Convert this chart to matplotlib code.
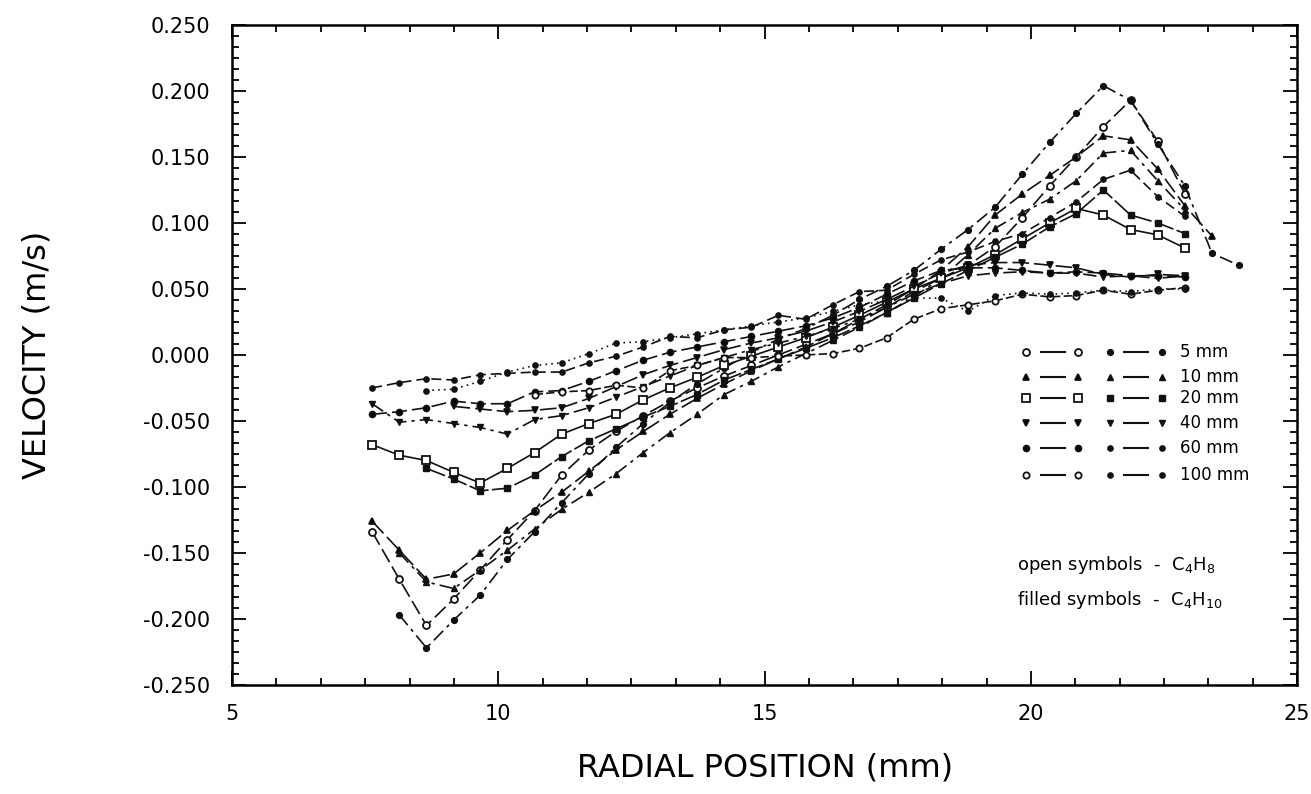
import matplotlib
matplotlib.use("Agg")
from matplotlib import pyplot as plt
from matplotlib.ticker import MultipleLocator, FormatStrFormatter
import numpy as np

plt.rcParams["font.family"] = ["DejaVu Sans"]
plt.rcParams["axes.unicode_minus"] = False
plt.rcParams["mathtext.fontset"] = "dejavusans"

N = None

# radial positions (mm)
radial = [7.63, 8.14, 8.65, 9.16, 9.66, 10.17, 10.68, 11.19, 11.70, 12.21, 12.72,
          13.22, 13.73, 14.24, 14.75, 15.26, 15.77, 16.28, 16.78, 17.29, 17.80,
          18.31, 18.82, 19.33, 19.84, 20.35, 20.85, 21.36, 21.87, 22.38, 22.89,
          23.40, 23.90]

# velocity (m/s) -- open symbols C4H8, filled symbols C4H10
c4h8_5mm = [-0.134, -0.170, -0.205, -0.185, -0.163, -0.140, -0.118, -0.091, -0.072, -0.058,
            -0.046, -0.035, -0.025, -0.016, -0.008, 0.000, 0.008, 0.016, 0.025, 0.036,
            0.048, 0.058, 0.068, 0.082, 0.104, 0.128, 0.150, 0.173, 0.193, 0.162, 0.122, N, N]
c4h10_5mm = [N, -0.197, -0.222, -0.201, -0.182, -0.155, -0.134, -0.112, -0.090, -0.070,
             -0.052, -0.036, -0.022, -0.010, 0.002, 0.012, 0.020, 0.030, 0.042, 0.052,
             0.064, 0.080, 0.095, 0.112, 0.137, 0.161, 0.183, 0.204, 0.193, 0.160, 0.128,
             0.077, 0.068]
c4h8_10mm = [-0.126, -0.148, -0.170, -0.166, -0.150, -0.133, -0.118, -0.104, -0.088, -0.072,
             -0.058, -0.045, -0.033, -0.022, -0.012, -0.003, 0.006, 0.016, 0.027, 0.038,
             0.050, 0.064, 0.082, 0.106, 0.122, 0.136, 0.150, 0.166, 0.163, 0.141, 0.113,
             0.090, N]
c4h10_10mm = [N, -0.150, -0.172, -0.177, -0.163, -0.148, -0.132, -0.117, -0.104, -0.090,
              -0.074, -0.059, -0.045, -0.030, -0.020, -0.009, 0.001, 0.011, 0.021, 0.032,
              0.044, 0.058, 0.076, 0.096, 0.108, 0.118, 0.132, 0.153, 0.155, 0.132, 0.110, N, N]
c4h8_20mm = [-0.068, -0.076, -0.080, -0.089, -0.097, -0.086, -0.074, -0.060, -0.052, -0.045,
             -0.034, -0.025, -0.017, -0.008, -0.001, 0.006, 0.013, 0.021, 0.030, 0.040,
             0.050, 0.058, 0.066, 0.076, 0.088, 0.100, 0.111, 0.106, 0.095, 0.091, 0.081, N, N]
c4h10_20mm = [N, N, -0.086, -0.094, -0.103, -0.101, -0.091, -0.077, -0.065, -0.056,
              -0.047, -0.039, -0.030, -0.019, -0.011, -0.003, 0.005, 0.013, 0.022, 0.032,
              0.043, 0.054, 0.064, 0.074, 0.084, 0.097, 0.107, 0.125, 0.106, 0.100, 0.092, N, N]
c4h8_40mm = [N, N, N, -0.039, -0.041, -0.043, -0.042, -0.040, -0.033, -0.024,
             -0.015, -0.008, -0.002, 0.004, 0.009, 0.013, 0.018, 0.025, 0.033, 0.042,
             0.052, 0.062, 0.068, 0.070, 0.070, 0.068, 0.066, 0.061, 0.059, 0.061, 0.060, N, N]
c4h10_40mm = [-0.037, -0.051, -0.049, -0.052, -0.055, -0.060, -0.049, -0.046, -0.040, -0.032,
              -0.024, -0.016, -0.008, -0.002, 0.004, 0.009, 0.014, 0.020, 0.027, 0.036,
              0.046, 0.054, 0.060, 0.062, 0.063, 0.062, 0.062, 0.059, 0.060, 0.058, 0.060, N, N]
c4h8_60mm = [-0.045, -0.043, -0.040, -0.035, -0.037, -0.037, -0.028, -0.027, -0.020, -0.012,
             -0.004, 0.002, 0.006, 0.010, 0.014, 0.018, 0.022, 0.028, 0.036, 0.046,
             0.056, 0.064, 0.066, 0.066, 0.064, 0.062, 0.063, 0.062, 0.060, 0.060, 0.059, N, N]
c4h10_60mm = [-0.025, -0.021, -0.018, -0.019, -0.015, -0.014, -0.013, -0.013, -0.006, -0.001,
              0.006, 0.014, 0.013, 0.019, 0.021, 0.030, 0.027, 0.038, 0.048, 0.049,
              0.061, 0.072, 0.078, 0.086, 0.092, 0.104, 0.116, 0.133, 0.140, 0.120, 0.105, N, N]
c4h8_100mm = [N, N, N, N, N, N, -0.030, -0.028, -0.027, -0.023,
              -0.025, -0.012, -0.008, -0.002, -0.002, -0.001, 0.000, 0.001, 0.005, 0.013,
              0.027, 0.035, 0.038, 0.041, 0.046, 0.044, 0.045, 0.049, 0.046, 0.049, 0.051, N, N]
c4h10_100mm = [N, N, -0.027, -0.026, -0.020, -0.013, -0.008, -0.006, 0.001, 0.009,
               0.010, 0.013, 0.016, 0.019, 0.022, 0.025, 0.028, 0.033, 0.038, 0.041,
               0.043, 0.043, 0.033, 0.045, 0.047, 0.046, 0.047, 0.049, 0.048, 0.050, 0.050, N, N]

heights = ["5 mm", "10 mm", "20 mm", "40 mm", "60 mm", "100 mm"]
open_series = [c4h8_5mm, c4h8_10mm, c4h8_20mm, c4h8_40mm, c4h8_60mm, c4h8_100mm]
filled_series = [c4h10_5mm, c4h10_10mm, c4h10_20mm, c4h10_40mm, c4h10_60mm, c4h10_100mm]

# style per height: (marker, open marker face, open size, filled size, open dash, filled dash)
styles = [
    ("o", "white", 5.0, 4.2, (0, (9, 3)), (0, (8, 3, 2, 3))),
    ("^", "black", 5.0, 3.8, (0, (10, 3)), (0, (8, 3, 2, 3))),
    ("s", "white", 5.5, 4.5, "-", (0, (12, 2))),
    ("v", "black", 5.0, 3.8, (0, (10, 3)), (0, (8, 3, 2, 3))),
    ("o", "black", 4.2, 3.8, (0, (9, 3)), (0, (6, 3))),
    ("o", "white", 4.5, 3.8, (0, (5, 2)), (0, (1, 2.5))),
]

fig = plt.figure(figsize=(13.11, 7.94), dpi=100)
ax = fig.add_axes([0.177, 0.1375, 0.8125, 0.831])

x = np.array(radial, dtype=float)
for op, fi, st in zip(open_series, filled_series, styles):
    mk, face, so, sf, dso, dsf = st
    ax.plot(x, np.array(op, dtype=float), color="#111111", lw=1.2, linestyle=dso,
            marker=mk, markersize=so, markerfacecolor=face, markeredgecolor="#111111",
            markeredgewidth=1.3)
    ax.plot(x, np.array(fi, dtype=float), color="#111111", lw=1.2, linestyle=dsf,
            marker=mk, markersize=sf, markerfacecolor="#111111", markeredgecolor="#111111")

# legend drawn inside the axes
rows_y = [0.505, 0.467, 0.435, 0.397, 0.359, 0.318]
for yy, lab, st in zip(rows_y, heights, styles):
    mk, face, so, sf, dso, dsf = st
    ax.plot([0.759, 0.782], [yy, yy], transform=ax.transAxes, color="#111111", lw=1.5)
    ax.plot([0.745, 0.794], [yy, yy], transform=ax.transAxes, linestyle="none",
            marker=mk, markersize=so, markerfacecolor=face, markeredgecolor="#111111",
            markeredgewidth=1.3)
    ax.plot([0.837, 0.860], [yy, yy], transform=ax.transAxes, color="#111111", lw=1.5)
    ax.plot([0.824, 0.873], [yy, yy], transform=ax.transAxes, linestyle="none",
            marker=mk, markersize=sf, markerfacecolor="#111111", markeredgecolor="#111111")
    ax.text(0.890, yy, lab, transform=ax.transAxes, fontsize=12, va="center", ha="left")

ax.text(0.737, 0.182, "open symbols  -  C$_4$H$_8$", transform=ax.transAxes,
        fontsize=13, va="center", ha="left")
ax.text(0.737, 0.129, "filled symbols  -  C$_4$H$_{10}$", transform=ax.transAxes,
        fontsize=13, va="center", ha="left")

ax.set_xlim(5, 25)
ax.set_ylim(-0.25, 0.25)
ax.xaxis.set_major_locator(MultipleLocator(5))
ax.xaxis.set_minor_locator(MultipleLocator(5 / 6))
ax.yaxis.set_major_locator(MultipleLocator(0.05))
ax.yaxis.set_minor_locator(MultipleLocator(0.05 / 6))
ax.yaxis.set_major_formatter(FormatStrFormatter("%.3f"))
ax.tick_params(which="both", direction="in", top=True, right=True, width=1.3,
               labelsize=15)
ax.tick_params(axis="y", pad=16)
ax.tick_params(axis="x", pad=14)
ax.tick_params(which="major", length=10)
ax.tick_params(which="minor", length=5)
for sp in ax.spines.values():
    sp.set_linewidth(1.8)

ax.set_xlabel("RADIAL POSITION (mm)", fontsize=23)
ax.set_ylabel("VELOCITY (m/s)", fontsize=23)
ax.xaxis.set_label_coords(0.5, -0.102)
ax.yaxis.set_label_coords(-0.169, 0.5)

fig.savefig("out.png", dpi=100)
